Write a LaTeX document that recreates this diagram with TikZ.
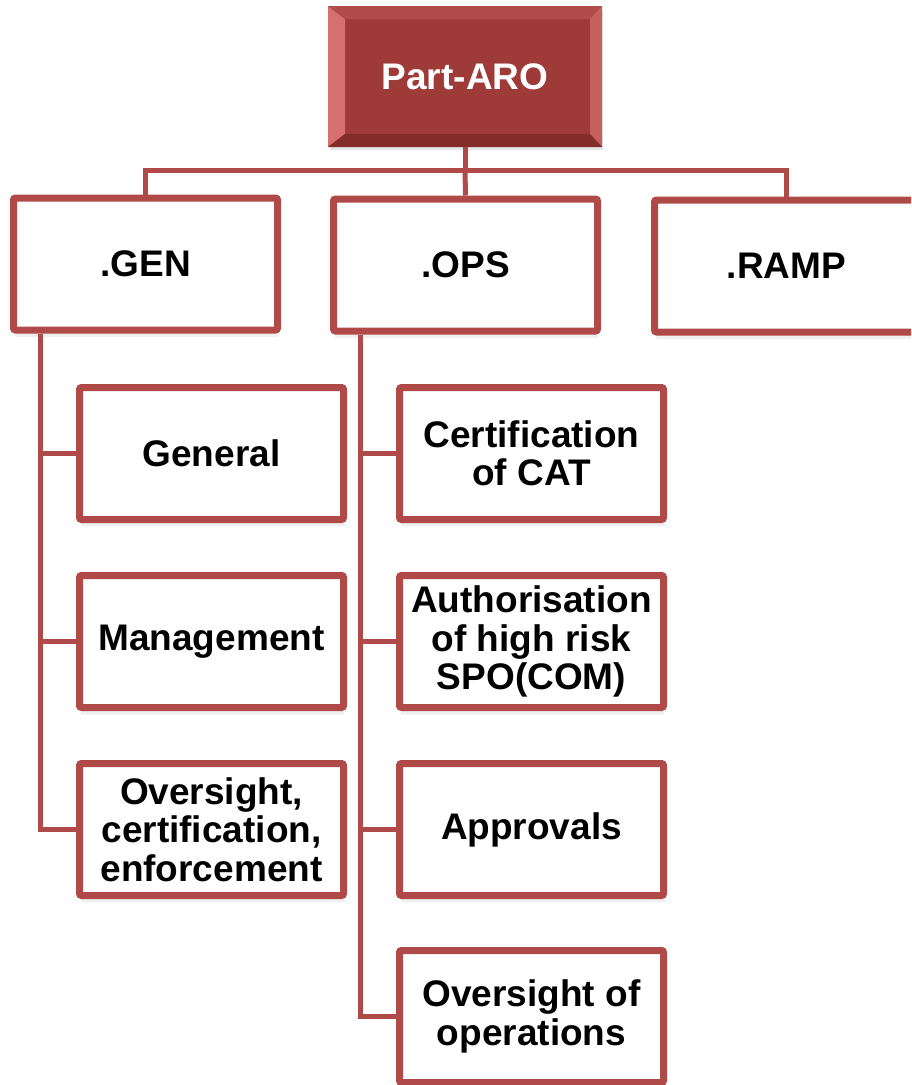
\documentclass[tikz,border=0pt]{standalone}
\usepackage{fontspec}
\setmainfont{Liberation Sans}
\usetikzlibrary{shadows}
\definecolor{brd}{RGB}{176,74,72}
\definecolor{face}{RGB}{158,58,56}
\definecolor{bevL}{RGB}{214,112,110}
\definecolor{bevT}{RGB}{178,76,74}
\definecolor{bevR}{RGB}{196,96,94}
\definecolor{bevB}{RGB}{132,44,42}
\tikzset{
  box/.style={draw=brd, line width=7pt, fill=white, rounded corners=2pt,
    minimum width=264pt, minimum height=132pt, inner sep=0pt, align=center,
    font=\fontsize{37}{38.5}\selectfont\bfseries,
    drop shadow={shadow xshift=1pt, shadow yshift=-7pt, opacity=.12}},
  conn/.style={draw=brd, line width=5pt},
  topbox/.style={draw=face!80!black, line width=1pt, fill=face,
    minimum width=273pt, minimum height=140pt, inner sep=0pt,
    text=white, font=\fontsize{37}{38}\selectfont\bfseries,
    drop shadow={shadow xshift=1pt, shadow yshift=-3pt, opacity=.2}}
}
\begin{document}
\begin{tikzpicture}[x=1pt,y=-1pt]
\useasboundingbox (0,0) rectangle (911,1085);
\clip (0,0) rectangle (911,1085);
% top node
\node[topbox] (aro) at (465,76.5) {};
\fill[bevL] (aro.north west) -- ([xshift=17pt,yshift=-13pt]aro.north west) -- ([xshift=17pt,yshift=13pt]aro.south west) -- (aro.south west) -- cycle;
\fill[bevT] (aro.north west) -- (aro.north east) -- ([xshift=-12pt,yshift=-13pt]aro.north east) -- ([xshift=17pt,yshift=-13pt]aro.north west) -- cycle;
\fill[bevR] (aro.north east) -- (aro.south east) -- ([xshift=-12pt,yshift=13pt]aro.south east) -- ([xshift=-12pt,yshift=-13pt]aro.north east) -- cycle;
\fill[bevB] (aro.south west) -- (aro.south east) -- ([xshift=-12pt,yshift=13pt]aro.south east) -- ([xshift=17pt,yshift=13pt]aro.south west) -- cycle;
\node[text=white, font=\fontsize{37}{38}\selectfont\bfseries] (arotext) at (aro.center) {Part-ARO};
% level 1
\node[box] (gen) at (145.5,264) {.GEN};
\node[box] (ops) at (465.5,265) {.OPS};
\node[box] (ramp) at (786.5,266) {.RAMP};
\coordinate (bus) at (465,170);
\draw[conn] (aro.south) -- (bus);
\draw[conn] (bus) -| (gen.north);
\draw[conn] (bus) -| (ramp.north);
\draw[conn] (bus) -- (ops.north);
% GEN children
\node[box] (general) at (211.5,453.5) {General};
\node[box] (mgmt) at (211.5,641.5) {Management};
\node[box] (osce) at (211.5,829.5) {Oversight,\\certification,\\enforcement};
\draw[conn] ([xshift=30pt]gen.south west) |- (general.west);
\draw[conn] ([xshift=30pt]gen.south west) |- (mgmt.west);
\draw[conn] ([xshift=30pt]gen.south west) |- (osce.west);
% OPS children
\node[box] (cert) at (531.5,453.5) {Certification\\of CAT};
\node[box] (auth) at (531.5,641.5) {Authorisation\\of high risk\\SPO(COM)};
\node[box] (appr) at (531.5,829.5) {Approvals};
\node[box] (oops) at (531.5,1016.5) {Oversight of\\operations};
\draw[conn] ([xshift=30pt]ops.south west) |- (cert.west);
\draw[conn] ([xshift=30pt]ops.south west) |- (auth.west);
\draw[conn] ([xshift=30pt]ops.south west) |- (appr.west);
\draw[conn] ([xshift=30pt]ops.south west) |- (oops.west);
\end{tikzpicture}
\end{document}
